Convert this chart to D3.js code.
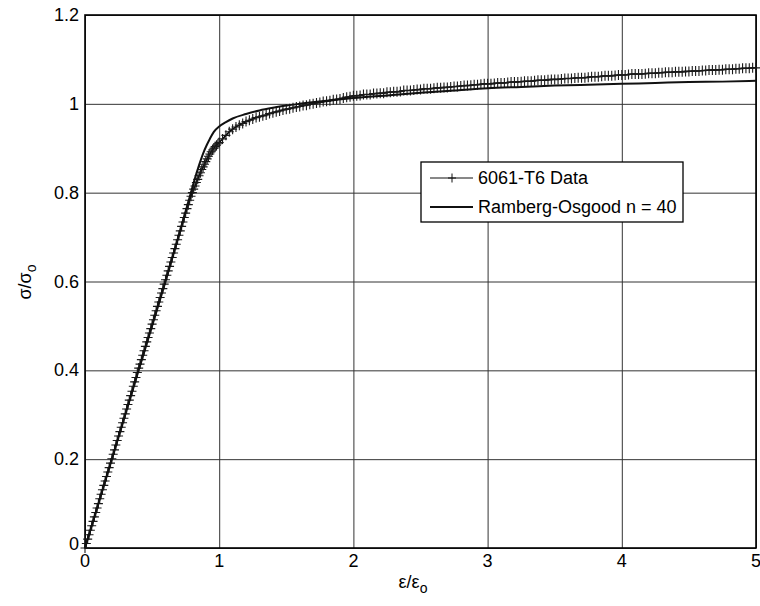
<!DOCTYPE html>
<html>
<head>
<meta charset="utf-8">
<script src="https://cdn.jsdelivr.net/npm/d3@7"></script>
<style>
  body { margin: 0; background: #fff; }
  text { font-family: Arial, "Liberation Sans", sans-serif; fill: #000; }
</style>
</head>
<body>
<svg id="chart" width="760" height="606"></svg>
<script>
let width = 760, height = 606;
let padLeft = 85, padRight = 756, padTop = 15, padBottom = 548;

// measured test data (strain / stress, normalised)
let dataStrain = [
  0.000,0.010,0.020,0.030,0.040,0.050,0.060,0.070,0.080,0.090,
  0.100,0.110,0.120,0.130,0.140,0.150,0.160,0.170,0.180,0.190,
  0.200,0.210,0.220,0.230,0.240,0.250,0.260,0.270,0.280,0.290,
  0.300,0.310,0.320,0.330,0.340,0.350,0.360,0.370,0.380,0.390,
  0.400,0.410,0.420,0.430,0.440,0.450,0.460,0.470,0.480,0.490,
  0.500,0.510,0.520,0.530,0.540,0.550,0.560,0.570,0.580,0.590,
  0.600,0.610,0.620,0.630,0.640,0.650,0.660,0.670,0.680,0.690,
  0.700,0.710,0.720,0.730,0.740,0.750,0.760,0.770,0.780,0.790,
  0.800,0.810,0.820,0.830,0.840,0.850,0.860,0.870,0.880,0.890,
  0.900,0.910,0.920,0.930,0.940,0.950,0.960,0.970,0.980,0.990,
  1.000,1.025,1.050,1.075,1.100,1.125,1.150,1.175,1.200,1.225,
  1.250,1.275,1.300,1.325,1.350,1.375,1.400,1.425,1.450,1.475,
  1.500,1.525,1.550,1.575,1.600,1.625,1.650,1.675,1.700,1.725,
  1.750,1.775,1.800,1.825,1.850,1.875,1.900,1.925,1.950,1.975,
  2.000,2.025,2.050,2.075,2.100,2.125,2.150,2.175,2.200,2.225,
  2.250,2.275,2.300,2.325,2.350,2.375,2.400,2.425,2.450,2.475,
  2.500,2.525,2.550,2.575,2.600,2.625,2.650,2.675,2.700,2.725,
  2.750,2.775,2.800,2.825,2.850,2.875,2.900,2.925,2.950,2.975,
  3.000,3.025,3.050,3.075,3.100,3.125,3.150,3.175,3.200,3.225,
  3.250,3.275,3.300,3.325,3.350,3.375,3.400,3.425,3.450,3.475,
  3.500,3.525,3.550,3.575,3.600,3.625,3.650,3.675,3.700,3.725,
  3.750,3.775,3.800,3.825,3.850,3.875,3.900,3.925,3.950,3.975,
  4.000,4.025,4.050,4.075,4.100,4.125,4.150,4.175,4.200,4.225,
  4.250,4.275,4.300,4.325,4.350,4.375,4.400,4.425,4.450,4.475,
  4.500,4.525,4.550,4.575,4.600,4.625,4.650,4.675,4.700,4.725,
  4.750,4.775,4.800,4.825,4.850,4.875,4.900,4.925,4.950,4.975,
  5.000
];
let dataStress = [
  0.000,0.010,0.020,0.030,0.040,0.050,0.060,0.070,0.080,0.090,
  0.100,0.111,0.121,0.131,0.141,0.151,0.161,0.171,0.181,0.191,
  0.201,0.211,0.221,0.232,0.242,0.252,0.262,0.272,0.282,0.292,
  0.302,0.313,0.323,0.333,0.343,0.353,0.364,0.374,0.384,0.395,
  0.405,0.414,0.424,0.434,0.444,0.454,0.464,0.474,0.484,0.494,
  0.504,0.514,0.524,0.534,0.544,0.554,0.564,0.574,0.584,0.594,
  0.604,0.614,0.624,0.634,0.644,0.654,0.664,0.674,0.684,0.694,
  0.704,0.714,0.724,0.734,0.744,0.754,0.764,0.773,0.783,0.792,
  0.800,0.808,0.815,0.823,0.830,0.838,0.845,0.852,0.858,0.864,
  0.870,0.876,0.882,0.887,0.892,0.896,0.900,0.904,0.907,0.910,
  0.913,0.921,0.929,0.937,0.943,0.948,0.952,0.956,0.960,0.963,
  0.966,0.969,0.971,0.973,0.975,0.978,0.980,0.982,0.984,0.986,
  0.988,0.989,0.991,0.993,0.994,0.996,0.997,0.999,1.000,1.002,
  1.003,1.005,1.006,1.007,1.009,1.010,1.011,1.013,1.015,1.016,
  1.018,1.018,1.019,1.021,1.021,1.021,1.023,1.023,1.024,1.024,
  1.026,1.026,1.027,1.027,1.028,1.030,1.030,1.030,1.031,1.032,
  1.032,1.034,1.034,1.034,1.035,1.036,1.036,1.037,1.037,1.038,
  1.039,1.039,1.040,1.041,1.041,1.042,1.043,1.043,1.044,1.045,
  1.045,1.045,1.046,1.047,1.047,1.047,1.048,1.049,1.049,1.049,
  1.050,1.051,1.051,1.051,1.052,1.053,1.053,1.053,1.054,1.055,
  1.055,1.055,1.056,1.057,1.057,1.057,1.058,1.059,1.059,1.059,
  1.060,1.061,1.061,1.061,1.062,1.063,1.063,1.063,1.064,1.065,
  1.065,1.065,1.066,1.067,1.067,1.067,1.067,1.068,1.069,1.069,
  1.069,1.070,1.070,1.071,1.071,1.071,1.072,1.072,1.072,1.073,
  1.073,1.074,1.074,1.074,1.075,1.075,1.076,1.076,1.076,1.077,
  1.077,1.078,1.078,1.078,1.079,1.079,1.080,1.080,1.080,1.081,
  1.081
];

// Ramberg-Osgood fit, n = 40
let roStrain = [0, 0.1, 0.2, 0.3, 0.4, 0.5, 0.6, 0.7, 0.74, 0.78, 0.82, 0.85, 0.88, 0.91,
  0.93, 0.96, 1.0, 1.05, 1.1, 1.2, 1.3, 1.4, 1.5, 1.6, 1.8, 2.0, 2.25, 2.5, 2.75, 3.0,
  3.25, 3.5, 3.75, 4.0, 4.25, 4.5, 4.75, 5.0];
let roStress = [0, 0.1, 0.2, 0.3, 0.4, 0.5, 0.6, 0.705, 0.748, 0.79, 0.833, 0.862, 0.888, 0.909,
  0.921, 0.937, 0.949, 0.959, 0.967, 0.977, 0.985, 0.991, 0.996, 1.0, 1.007, 1.013, 1.019, 1.025,
  1.030, 1.035, 1.038, 1.041, 1.043, 1.045, 1.047, 1.049, 1.050, 1.052];

let xTicks = [0, 1, 2, 3, 4, 5];
let yTicks = [0, 0.2, 0.4, 0.6, 0.8, 1, 1.2];
let legendLabels = ["6061-T6 Data", "Ramberg-Osgood n = 40"];

let svg = d3.select('#chart');

let x = d3.scaleLinear().domain([0, 5]).range([padLeft, padRight]);
let y = d3.scaleLinear().domain([0, 1.2]).range([padBottom, padTop]);

// grid
svg.append('g')
    .attr('transform', 'translate(0,' + padBottom + ')')
    .call(d3.axisBottom(x).tickValues(xTicks).tickSize(-(padBottom - padTop)).tickFormat(''))
    .call(g => g.select('.domain').remove())
    .selectAll('line').attr('stroke', '#333').attr('stroke-width', 1);

svg.append('g')
    .attr('transform', 'translate(' + padLeft + ',0)')
    .call(d3.axisLeft(y).tickValues(yTicks).tickSize(-(padRight - padLeft)).tickFormat(''))
    .call(g => g.select('.domain').remove())
    .selectAll('line').attr('stroke', '#333').attr('stroke-width', 1);

// tick labels
svg.append('g').selectAll('text')
    .data(xTicks).enter().append('text')
    .attr('x', d => x(d))
    .attr('y', padBottom + 19)
    .attr('text-anchor', d => d === 5 ? 'end' : 'middle')
    .attr('dx', d => d === 5 ? 5 : 0)
    .style('font-size', '18px')
    .text(d => d);

svg.append('g').selectAll('text')
    .data(yTicks).enter().append('text')
    .attr('x', padLeft - 6)
    .attr('y', d => y(d) + 6 - (d === 0 ? 4 : 0))
    .attr('text-anchor', 'end')
    .style('font-size', '18px')
    .text(d => d);

// box
svg.append('rect')
    .attr('x', padLeft).attr('y', padTop)
    .attr('width', padRight - padLeft).attr('height', padBottom - padTop)
    .attr('fill', 'none').attr('stroke', '#000').attr('stroke-width', 1.6);

let dataPts = dataStrain.map((d, i) => [d, dataStress[i]]);
let roPts = roStrain.map((d, i) => [d, roStress[i]]);

let line = d3.line().x(d => x(d[0])).y(d => y(d[1]));

svg.append('path')
    .attr('d', line(dataPts))
    .attr('fill', 'none').attr('stroke', '#000').attr('stroke-width', 1.5);

svg.append('g').selectAll('path')
    .data(dataPts).enter().append('path')
    .attr('d', d => 'M' + (x(d[0]) - 4.5) + ',' + y(d[1]) + 'h9M' + x(d[0]) + ',' + (y(d[1]) - 5) + 'v10')
    .attr('stroke', '#1a1a1a').attr('stroke-width', 1.1);

svg.append('path')
    .attr('d', d3.line().x(d => x(d[0])).y(d => y(d[1])).curve(d3.curveMonotoneX)(roPts))
    .attr('fill', 'none').attr('stroke', '#111').attr('stroke-width', 2);

// axis titles
let xt = svg.append('text')
    .attr('x', 413).attr('y', 588)
    .attr('text-anchor', 'middle')
    .style('font-size', '18px');
xt.append('tspan').text('ε/ε');
xt.append('tspan').attr('dy', 5).style('font-size', '14px').text('o');

let yt = svg.append('text')
    .attr('transform', 'translate(31,282) rotate(-90)')
    .attr('text-anchor', 'middle')
    .style('font-size', '18px');
yt.append('tspan').text('σ/σ');
yt.append('tspan').attr('dy', 5).style('font-size', '14px').text('o');

// legend
let lg = svg.append('g');
lg.append('rect')
    .attr('x', 421).attr('y', 162).attr('width', 262).attr('height', 60)
    .attr('fill', '#fff').attr('stroke', '#000').attr('stroke-width', 1.3);

lg.append('line').attr('x1', 430).attr('x2', 473).attr('y1', 178).attr('y2', 178)
    .attr('stroke', '#111').attr('stroke-width', 1);
lg.append('path').attr('d', 'M448,178h8M452,173.5v9').attr('stroke', '#111').attr('stroke-width', 1);
lg.append('line').attr('x1', 430).attr('x2', 473).attr('y1', 207).attr('y2', 207)
    .attr('stroke', '#111').attr('stroke-width', 2);

lg.selectAll('text.lab')
    .data(legendLabels).enter().append('text')
    .attr('class', 'lab')
    .attr('x', 478)
    .attr('y', (d, i) => 184 + i * 29)
    .style('font-size', '18px')
    .text(d => d);
</script>
</body>
</html>
